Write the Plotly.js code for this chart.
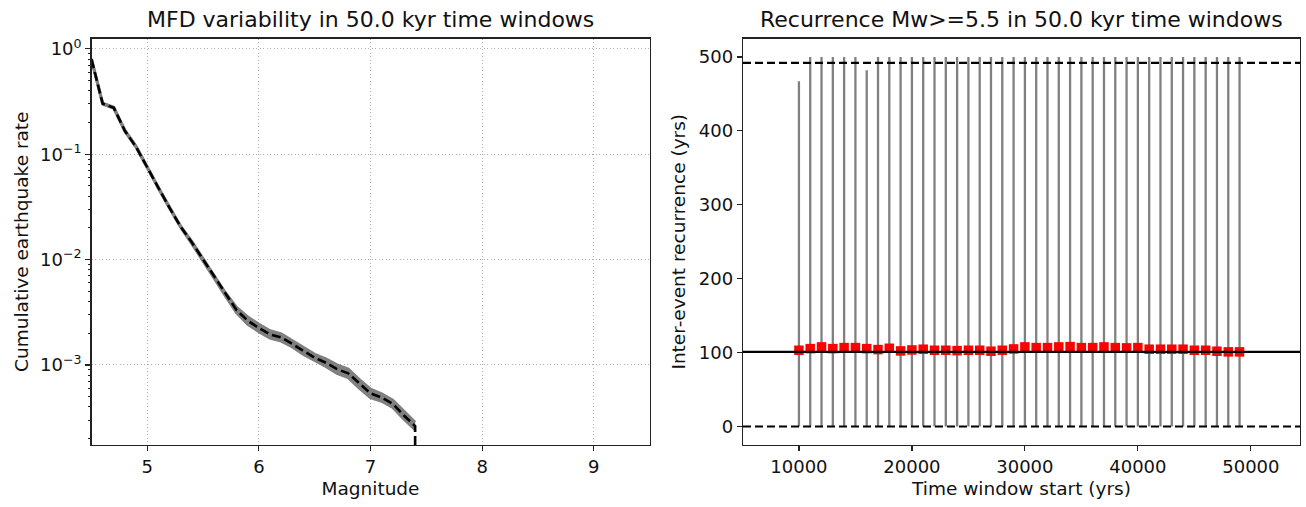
<!DOCTYPE html>
<html>
<head>
<meta charset="utf-8">
<script src="https://cdn.plot.ly/plotly-3.0.1.min.js"></script>
<style>html,body{margin:0;padding:0;background:#fff;}#chart{width:1306px;height:507px;}</style>
</head>
<body>
<div id="chart"></div>
<script>
// ---------- Left panel: MFD variability ----------
const magnitudes = [4.5,4.6,4.7,4.8,4.9,5.0,5.1,5.2,5.3,5.4,5.5,5.6,5.7,5.8,5.9,6.0,6.1,6.2,6.3,6.4,6.5,6.6,6.7,6.8,6.9,7.0,7.1,7.2,7.3,7.4];
const mfdMean = [0.794,0.302,0.275,0.166,0.117,0.0741,0.0479,0.0309,0.0204,0.0145,0.0100,0.00676,0.00468,0.00331,0.00263,0.00224,0.00195,0.00182,0.00158,0.00135,0.00117,0.00105,0.000912,0.000832,0.000661,0.000537,0.000490,0.000427,0.000331,0.000263];
const mfdMax = [0.804,0.305,0.279,0.168,0.119,0.0750,0.0484,0.0313,0.0207,0.0148,0.0102,0.00692,0.00484,0.00351,0.00285,0.00243,0.00211,0.00197,0.00170,0.00145,0.00126,0.00114,0.00100,0.000912,0.000724,0.000589,0.000531,0.000462,0.000359,0.000285];
const mfdMin = [0.785,0.299,0.272,0.164,0.116,0.0733,0.0473,0.0305,0.0202,0.0141,0.00977,0.00661,0.00452,0.00313,0.00243,0.00207,0.00180,0.00168,0.00148,0.00126,0.00110,0.000966,0.000832,0.000759,0.000603,0.000490,0.000452,0.000394,0.000305,0.000243];
const mfdTailMag = 7.4;      // last magnitude bin, where the rate drops to ~0
const mfdTailRate = 1e-5;
const logTickVals = [1, 0.1, 0.01, 0.001];
const logTickText = ['10<sup>0</sup>','10<sup>\u22121</sup>','10<sup>\u22122</sup>','10<sup>\u22123</sup>'];
const logMinorTicks = [0.0002,0.0003,0.0004,0.0005,0.0006,0.0007,0.0008,0.0009,
                       0.002,0.003,0.004,0.005,0.006,0.007,0.008,0.009,
                       0.02,0.03,0.04,0.05,0.06,0.07,0.08,0.09,
                       0.2,0.3,0.4,0.5,0.6,0.7,0.8,0.9];
const magTicks = [5,6,7,8,9];

// ---------- Right panel: recurrence ----------
const windowStart = [10000,11000,12000,13000,14000,15000,16000,17000,18000,19000,20000,21000,22000,23000,24000,25000,26000,27000,28000,29000,30000,31000,32000,33000,34000,35000,36000,37000,38000,39000,40000,41000,42000,43000,44000,45000,46000,47000,48000,49000];
const recurMean = [103.2,105.4,107.7,105.4,106.8,106.8,105.4,104.1,105.9,102.3,103.6,104.6,103.2,103.2,102.7,103.2,103.2,101.9,103.2,105.0,107.7,106.8,106.8,107.7,108.1,106.8,106.8,107.7,106.8,106.4,106.8,104.6,104.6,104.6,104.6,103.2,103.2,101.9,101.0,101.0];
const recurMin = [0,0,0,0,0,0,0,0,0,0,0,0,0,0,0,0,0,0,0,0,0,0,0,0,0,0,0,0,0,0,0,0,0,0,0,0,0,0,0,0];
const recurMax = [467,500,500,500,500,500,482,500,500,500,500,500,500,500,500,500,500,500,500,500,500,500,500,500,500,500,500,500,500,500,500,500,500,500,500,500,500,500,500,500];
const overallMean = 101;
const lowerBound = 0;
const upperBound = 492;
const timeTicks = [10000,20000,30000,40000,50000];

// build vertical range segments
const segX = [], segY = [];
windowStart.forEach((x,i)=>{ segX.push(x,x,null); segY.push(recurMin[i],recurMax[i],null); });

const FONT = 'DejaVu Sans, Verdana, sans-serif';
const TXT = '#111';
const traces = [
  {x: magnitudes, y: mfdMin, type:'scatter', mode:'lines', line:{color:'#808080', width:3}, xaxis:'x', yaxis:'y', hoverinfo:'skip', showlegend:false},
  {x: magnitudes, y: mfdMax, type:'scatter', mode:'lines', fill:'tonexty', fillcolor:'#808080', line:{color:'#808080', width:3}, xaxis:'x', yaxis:'y', hoverinfo:'skip', showlegend:false},
  {x: magnitudes.concat([mfdTailMag]), y: mfdMean.concat([mfdTailRate]), type:'scatter', mode:'lines', line:{color:'#000', width:2.6, dash:'9px,4px'}, xaxis:'x', yaxis:'y', showlegend:false},
  {x: segX, y: segY, type:'scatter', mode:'lines', line:{color:'#808080', width:2.3}, xaxis:'x2', yaxis:'y2', connectgaps:false, showlegend:false},
  {x: windowStart, y: recurMean, type:'scatter', mode:'markers', marker:{symbol:'square', color:'#ff0000', size:9.5, line:{width:0}}, xaxis:'x2', yaxis:'y2', showlegend:false}
];

const axCommon = {
  showline:true, mirror:true, linecolor:'#222', linewidth:1.3,
  ticks:'outside', ticklen:5, tickwidth:1.2, tickcolor:'#222',
  tickfont:{family:FONT, size:18, color:TXT}, zeroline:false
};
const labelFont = {family:FONT, size:18.5, color:TXT};

const yTop = 1 - 38.5/507, yBot = 1 - 445/507;
const layout = {
  width:1306, height:507,
  margin:{l:0, r:0, t:0, b:0},
  paper_bgcolor:'#fff', plot_bgcolor:'#fff',
  showlegend:false,
  font:{family:FONT, color:TXT},
  xaxis: Object.assign({}, axCommon, {
    domain:[91.5/1306, 649.5/1306], range:[4.5, 9.5],
    tickmode:'array', tickvals: magTicks,
    showgrid:true, gridcolor:'#b0b0b0', gridwidth:1, griddash:'1px,2.5px',
    title:{text:'Magnitude', font:labelFont, standoff:6}
  }),
  yaxis: Object.assign({}, axCommon, {
    domain:[yBot, yTop], type:'log', range:[-3.76, 0.098],
    tickmode:'array', tickvals: logTickVals, ticktext: logTickText,
    showgrid:true, gridcolor:'#b0b0b0', gridwidth:1, griddash:'1px,2.5px',
    title:{text:'Cumulative earthquake rate', font:labelFont, standoff:6}
  }),
  // overlay axis carrying only the minor log ticks
  yaxis3: {
    overlaying:'y', anchor:'x', side:'left', type:'log', range:[-3.76, 0.098],
    tickmode:'array', tickvals: logMinorTicks, ticktext: logMinorTicks.map(()=>''),
    ticks:'outside', ticklen:3, tickwidth:1, tickcolor:'#222',
    showgrid:false, showline:false, zeroline:false, showticklabels:false
  },
  xaxis2: Object.assign({}, axCommon, {
    domain:[743/1306, 1300/1306], range:[5050, 54350], anchor:'y2',
    tickmode:'array', tickvals: timeTicks, tickformat:'d', showgrid:false,
    title:{text:'Time window start (yrs)', font:labelFont, standoff:6}
  }),
  yaxis2: Object.assign({}, axCommon, {
    domain:[yBot, yTop], range:[-25, 525], anchor:'x2',
    tickmode:'linear', tick0:0, dtick:100, showgrid:false,
    title:{text:'Inter-event recurrence (yrs)', font:labelFont, standoff:8}
  }),
  shapes:[
    {type:'line', xref:'x2 domain', yref:'y2', x0:0, x1:1, y0:overallMean, y1:overallMean, line:{color:'#000', width:2.2}, layer:'above'},
    {type:'line', xref:'x2 domain', yref:'y2', x0:0, x1:1, y0:lowerBound, y1:lowerBound, line:{color:'#000', width:2.2, dash:'8px,4px'}, layer:'above'},
    {type:'line', xref:'x2 domain', yref:'y2', x0:0, x1:1, y0:upperBound, y1:upperBound, line:{color:'#000', width:2.2, dash:'8px,4px'}, layer:'above'}
  ],
  annotations:[
    {text:'MFD variability in 50.0 kyr time windows', xref:'paper', yref:'paper', x:370.5/1306, y:1-20/507, xanchor:'center', yanchor:'middle', showarrow:false, font:{family:FONT, size:22, color:TXT}},
    {text:'Recurrence Mw>=5.5 in 50.0 kyr time windows', xref:'paper', yref:'paper', x:1021.5/1306, y:1-20/507, xanchor:'center', yanchor:'middle', showarrow:false, font:{family:FONT, size:22, color:TXT}}
  ]
};

// a tiny invisible trace so the overlay axis is drawn
traces.push({x:[magnitudes[0]], y:[mfdMean[0]], type:'scatter', mode:'markers', marker:{opacity:0}, xaxis:'x', yaxis:'y3', hoverinfo:'skip', showlegend:false});

Plotly.newPlot('chart', traces, layout, {displayModeBar:false, staticPlot:true});
</script>
</body>
</html>
